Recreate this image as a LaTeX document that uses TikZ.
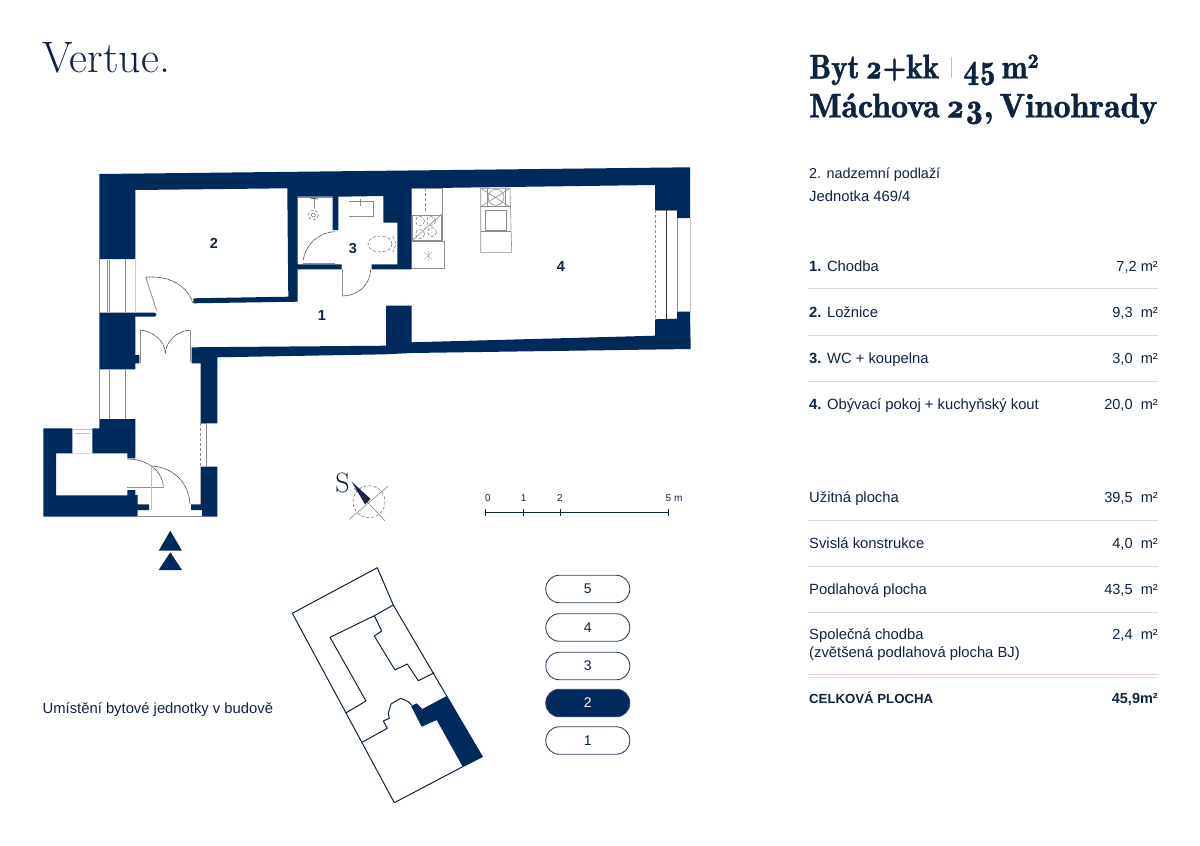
\documentclass[tikz,border=0pt]{standalone}
\usepackage{fontspec}
\setmainfont{Liberation Sans}
\newfontfamily\titlefont[Numbers=OldStyle]{Latin Modern Roman}
\newfontfamily\headfont[Numbers=OldStyle, FakeStretch=1.0, FakeBold=1.2, WordSpace=0.55]{Latin Modern Roman Demi}
\newfontfamily\headnarrow[Numbers=OldStyle, FakeStretch=0.91, FakeBold=1.2, WordSpace=0.55]{Latin Modern Roman Demi}
\usetikzlibrary{positioning}
\definecolor{planblue}{HTML}{002A5C}
\definecolor{inktext}{HTML}{0E2340}
\definecolor{needle}{HTML}{1C2348}
\tikzset{
    wall/.style={fill=planblue, draw=none},
    fixture/.style={draw=black!45, line width=0.6pt},
    doorleaf/.style={draw=black!45, line width=0.8pt},
    doorarc/.style={draw=black!70, line width=0.6pt, dash pattern=on 5pt off 0.6pt},
    siteline/.style={draw=inktext, line width=1pt, line join=round},
    rowtext/.style={anchor=base west, inner sep=0pt, text=inktext, font=\fontsize{14.8}{16}\selectfont},
    rowarea/.style={anchor=base east, inner sep=0pt, text=inktext, font=\fontsize{14.6}{16}\selectfont},
    rowrule/.style={draw=black!14, line width=0.7pt},
    roomnum/.style={inner sep=0pt, text=inktext, font=\fontsize{14.5}{16}\selectfont\bfseries},
    headline/.style={anchor=base west, inner sep=0pt, text=inktext, font=\headfont\fontsize{34}{38}\selectfont},
    floorpill/.style={draw=inktext!85, line width=0.9pt, rounded corners=13.5pt, minimum width=84pt, minimum height=27.5pt, inner sep=0pt, text=inktext, font=\fontsize{14}{16}\selectfont},
}
\begin{document}
\begin{tikzpicture}[x=1pt, y=-1pt]
    \useasboundingbox (0, 0) rectangle (1200, 846);
    % header
    \node [anchor=base west, inner sep=0pt, text=inktext, font=\titlefont\fontsize{44}{50}\selectfont] (brand) at (42.5, 72) {Vertue.};
    \node [headline, font=\headnarrow\fontsize{34}{38}\selectfont] (title one) at (809, 78.3) {Byt 2+kk};
    \node [headline, font=\headnarrow\fontsize{34}{38}\selectfont] (title area) at (963, 78.3) {45 m²};
    \node [headline] (title two) at (809, 117.3) {Máchova 23, Vinohrady};
    \draw [black!25, line width=0.7pt] (951, 57) -- (951, 78);
    \node [rowtext, font=\fontsize{14.4}{16}\selectfont] (floor) at (809, 178.3) {2. nadzemní podlaží};
    \node [rowtext] (unit) at (809, 201) {Jednotka 469/4};

    % walls
    \fill [wall] (99.3, 174) -- (690, 167.3) -- (690, 218) -- (677, 218) -- (677, 210) -- (655, 210) -- (655, 185) -- (411.7, 188.3) -- (411.7, 269.3) -- (371.7, 269.3) -- (371.7, 264.3) -- (397.3, 264.3) -- (397.3, 222.7) -- (383.3, 222.7) -- (383.3, 196) -- (338.3, 196.7) -- (338.3, 230) -- (332.7, 230) -- (332.7, 196.7) -- (297.5, 196.7) -- (297.5, 264.3) -- (341.7, 264.3) -- (341.7, 269.3) -- (297.5, 269.3) -- (297.7, 301.7) -- (193.3, 303.3) -- (193.3, 298.3) -- (288.3, 296.7) -- (287.3, 188.3) -- (135.3, 190) -- (135.3, 259) -- (99.3, 259) -- cycle;
    \fill [wall] (99.3, 312.7) -- (155, 312.7) -- (156.5, 314.5) -- (155, 316.7) -- (135.3, 316.7) -- (135.3, 355) -- (139.3, 355) -- (139.3, 363.3) -- (135.3, 363.3) -- (135.3, 369.3) -- (99.3, 369.3) -- cycle;
    \fill [wall] (191.7, 347.3) -- (386, 345.7) -- (386, 305.7) -- (411.7, 305.7) -- (411.7, 342.3) -- (655, 335.7) -- (655, 319.3) -- (677, 318.7) -- (677, 311.7) -- (690, 311.7) -- (690.7, 349) -- (411.7, 353) -- (386, 354.3) -- (217.3, 357.3) -- (217.3, 423.3) -- (200.7, 423.3) -- (200.7, 363.3) -- (191.7, 363.3) -- cycle;
    \fill [wall] (99.3, 419) -- (135.3, 419) -- (135.3, 458.3) -- (127.3, 458.3) -- (127.3, 453.3) -- (92.3, 453.3) -- (92.3, 428.3) -- (99.3, 428.3) -- cycle;
    \fill [wall] (43.3, 428.3) -- (72.3, 428.3) -- (72.3, 453.3) -- (56, 453.3) -- (56, 495.3) -- (127.3, 495.3) -- (127.3, 490) -- (135.3, 490) -- (135.3, 495) -- (137.7, 495) -- (137.7, 504.3) -- (149, 504.3) -- (149, 510) -- (137.7, 510) -- (137.7, 516.7) -- (43.3, 516.7) -- cycle;
    \fill [wall] (200.7, 466.7) -- (217.3, 466.7) -- (217.3, 516.7) -- (202, 516.7) -- (202, 510) -- (191, 510) -- (191, 504.3) -- (200.7, 504.3) -- cycle;

    % windows
    \draw [fixture] (99.3, 259) -- (99.3, 312.7);
    \draw [fixture] (125, 259) -- (125, 312.7);
    \draw [fixture, black!20] (135.3, 259) -- (135.3, 312.7);
    \draw [fixture, double, double distance=1.5pt] (108.5, 260) -- (108.5, 312);
    \draw [fixture] (99.3, 369.3) -- (99.3, 419);
    \draw [fixture] (125.7, 369.3) -- (125.7, 419);
    \draw [fixture, double, double distance=1.2pt] (108.8, 370) -- (108.8, 419);
    \draw [fixture, black!25] (72.3, 429) -- (92.3, 429);
    \draw [fixture, black!25, double, double distance=1pt] (75, 434) -- (90, 434);
    \draw [fixture, black!15] (72.3, 453.3) -- (92.3, 453.3);
    \draw [fixture] (200.7, 423.3) -- (206, 423.3) -- (206, 466.7);
    \draw [fixture, densely dashed] (200.7, 423.3) -- (200.7, 466.7);
    \draw [fixture] (655, 210) -- (677, 210);
    \draw [fixture, densely dashed] (655, 210) -- (655, 319.3);
    \draw [black!80, line width=0.6pt] (666.7, 210) -- (666.7, 319);
    \draw [fixture] (677, 218) -- (677, 311.7);
    \draw [fixture, black!25] (690, 218) -- (690, 311.7);
    \draw [fixture] (137.7, 516.7) -- (202, 516.7);

    % doors
    \draw [doorleaf] (156.7, 310.7) -- (145.7, 277.3);
    \draw [doorarc] (145.7, 277.3) .. controls (168, 275) and (187, 285) .. (192.7, 302.7);
    \draw [doorleaf] (140.3, 363.3) -- (140.3, 330);
    \draw [doorarc] (140.3, 330) .. controls (153, 331) and (165, 341) .. (165.3, 353.3);
    \draw [doorleaf] (190, 361.7) -- (190, 330);
    \draw [doorarc] (190, 330) .. controls (177, 331) and (166, 341) .. (165.3, 353.3);
    \draw [doorleaf] (303.3, 263) -- (335, 263);
    \draw [doorarc] (303.3, 260) .. controls (305, 245) and (319, 232) .. (335, 231.7);
    \draw [doorleaf] (342.7, 269.3) -- (342.7, 296);
    \draw [doorarc] (342.7, 296) .. controls (358, 296) and (370, 285) .. (370.7, 269.3);
    \draw [doorleaf] (127.3, 487.7) -- (163.3, 487.7);
    \draw [doorarc] (127.3, 459) .. controls (146, 459) and (163, 470) .. (163.3, 487.7);
    \draw [doorleaf, black!25] (151, 466) -- (151, 510);
    \draw [doorarc] (151.7, 466) .. controls (172, 467) and (189, 482) .. (190, 504.3);

    % kitchen and furniture
    \draw [fixture] (411.7, 188.3) -- (442.7, 188.3) -- (442.7, 241.7) -- (444.7, 241.7) -- (444.7, 268.3) -- (411.7, 268.3);
    \draw [fixture] (411.7, 241.7) -- (444.7, 241.7);
    \draw [fixture] (412.7, 215) -- (441.7, 215) -- (441.7, 240) -- (412.7, 240) -- cycle;
    \draw [fixture] (412.7, 240) -- (443, 213);
    \draw [fixture, densely dashed] (425, 188.3) -- (425, 213);
    \foreach \cx/\cy in {420/221, 431/221, 420/234, 432/232}
        \draw [black!60, line width=0.5pt, densely dashed] (\cx, \cy) circle (4.5);
    \draw [fixture, black!30] (424.5, 252) -- (432, 259.5) (432, 252) -- (424.5, 259.5) (428.3, 251) -- (428.3, 260.5);
    \draw [fixture] (480.7, 188.3) -- (510, 188.3) -- (511.7, 252.3) -- (480.7, 252.3) -- cycle;
    \draw [fixture] (480.7, 206.7) -- (510.5, 206.7);
    \draw [fixture] (485, 210) rectangle (506.7, 230);
    \draw [fixture] (480.7, 231) -- (511, 231);
    \draw [fixture] (496, 197.3) circle (8);
    \draw [fixture] (480.7, 188.3) -- (510, 206.7) (510, 188.3) -- (480.7, 206.7);
    \draw [fixture] (487, 206.7) -- (487, 188.3) (505, 206.7) -- (505, 188.3);

    % bathroom
    \draw [fixture] (297.5, 197.5) -- (332.7, 197.5);
    \draw [fixture] (314, 197) -- (314, 209);
    \draw [black!70, line width=0.8pt] (310, 198) -- (318, 199);
    \draw [black!60, line width=0.5pt, densely dashed] (313.3, 215) circle (5);
    \draw [black!60, line width=0.5pt] (313.3, 215) circle (2);
    \draw [fixture] (349.3, 201.7) -- (373.3, 201.7) -- (373.3, 216.7) -- (349.3, 216.7);
    \draw [fixture] (360.7, 199) -- (360.7, 206);
    \draw [black!60, line width=0.5pt, densely dashed] (380, 244) ellipse (12 and 8);
    \draw [black!60, line width=0.5pt, densely dashed] (393, 236) -- (396, 244) -- (393, 252);

    % room numbers
    \node [roomnum] (room one) at (322, 315.5) {1};
    \node [roomnum] (room two) at (214, 243.5) {2};
    \node [roomnum] (room three) at (353, 249) {3};
    \node [roomnum] (room four) at (561, 266.5) {4};

    % entrance
    \fill [planblue] (170.3, 530.7) -- (182, 550.7) -- (158.7, 550.7) -- cycle;
    \fill [planblue] (170.3, 552.3) -- (182, 570) -- (158.7, 570) -- cycle;

    % compass
    \node [inner sep=0pt, text=inktext, font=\titlefont\fontsize{28}{30}\selectfont] (south) at (342.5, 482.5) {S};
    \draw [black!60, line width=0.5pt, densely dashed] (369, 501.7) circle (16);
    \draw [black!55, line width=0.5pt] (349.3, 519.3) -- (388.3, 486);
    \draw [black!55, line width=0.5pt] (354, 488) -- (385, 520.7);
    \fill [needle] (351.7, 481.7) -- (370.7, 499) -- (365, 504.3) -- cycle;

    % scale bar
    \draw [inktext, line width=0.9pt] (485, 512.3) -- (668.3, 512.3);
    \foreach \sx in {485, 523.7, 560.3, 668.3}
        \draw [inktext, line width=0.9pt] (\sx, 508.8) -- (\sx, 515.8);
    \foreach \sx/\stxt/\sname in {488/0/zero, 523.7/1/one, 560/2/two}
        \node [inner sep=0pt, text=inktext, font=\fontsize{10}{11}\selectfont] (scale \sname) at (\sx, 498) {\stxt};
    \node [inner sep=0pt, text=inktext, font=\fontsize{10}{11}\selectfont] (scale five) at (674, 498) {5 m};

    % site plan
    \draw [siteline] (292.3, 613.3) -- (377.3, 567.7) -- (393.3, 605) -- (482.3, 756.7) -- (462.7, 766.7) -- (394.3, 802.7) -- cycle;
    \draw [siteline] (393.3, 605) -- (374.3, 615.7) -- (330, 637.3) -- (366, 701) -- (345.7, 713);
    \draw [siteline] (374.3, 615.7) -- (381.7, 631) -- (374.3, 636) -- (395, 670) -- (407.3, 664) -- (418.3, 680.7) -- (434.3, 672.7);
    \draw [siteline] (362, 742.3) -- (387.3, 728.3) -- (383.3, 721) -- (389.3, 718.3) -- (388.3, 713.3) -- (391, 704) -- (400.7, 698.3) -- (408.3, 701.7) -- (411.7, 705);
    \fill [planblue] (411, 706) -- (416.7, 703.3) -- (422.3, 709) -- (446.7, 696) -- (482.3, 756.7) -- (462.7, 766.7) -- (436.7, 720) -- (421.7, 726.7) -- cycle;
    \node [rowtext] (site label) at (42.5, 713.3) {Umístění bytové jednotky v budově};

    % floors
    \foreach \fl/\fy in {5/589, 4/627.5, 3/666, 1/740.5}
        \node [floorpill] (floor \fl) at (587.8, \fy) {\fl};
    \node [floorpill, fill=planblue, text=white] (floor 2) at (587.8, 703) {2};

    % room table
    \foreach \rnum/\rname/\rarea/\ry in {1./Chodba/{7,2 m²}/271.7, 2./Ložnice/{9,3\ \ m²}/317.7, 3./WC + koupelna/{3,0\ \ m²}/363.7, 4./Obývací pokoj + kuchyňský kout/{20,0\ \ m²}/409.7} {
        \node [rowtext] (room name \ry) at (809, \ry) {\textbf{\rnum} \rname};
        \node [rowarea] (room area \ry) at (1158, \ry) {\rarea};
    }
    \foreach \ry in {288.3, 335, 381}
        \draw [rowrule] (808, \ry) -- (1158, \ry);

    % area table
    \foreach \aname/\aarea/\ay in {Užitná plocha/{39,5\ \ m²}/502, Svislá konstrukce/{4,0\ \ m²}/548, Podlahová plocha/{43,5\ \ m²}/594, Společná chodba/{2,4\ \ m²}/639.5} {
        \node [rowtext] (area name \ay) at (809, \ay) {\aname};
        \node [rowarea] (area value \ay) at (1158, \ay) {\aarea};
    }
    \node [rowtext] (area note) at (809, 657.5) {(zvětšená podlahová plocha BJ)};
    \foreach \ry in {520, 566, 612.5}
        \draw [rowrule] (808, \ry) -- (1158, \ry);
    \draw [black!30!magenta!25, line width=0.7pt] (808, 674.3) -- (1158, 674.3);
    \draw [black!10!magenta!15, line width=0.7pt] (808, 677.7) -- (1158, 677.7);
    \node [rowtext, font=\fontsize{13.2}{16}\selectfont\bfseries] (total name) at (809, 703.3) {CELKOVÁ PLOCHA};
    \node [rowarea, font=\fontsize{14.5}{16}\selectfont\bfseries] (total value) at (1158, 703.3) {45,9m²};
\end{tikzpicture}
\end{document}
